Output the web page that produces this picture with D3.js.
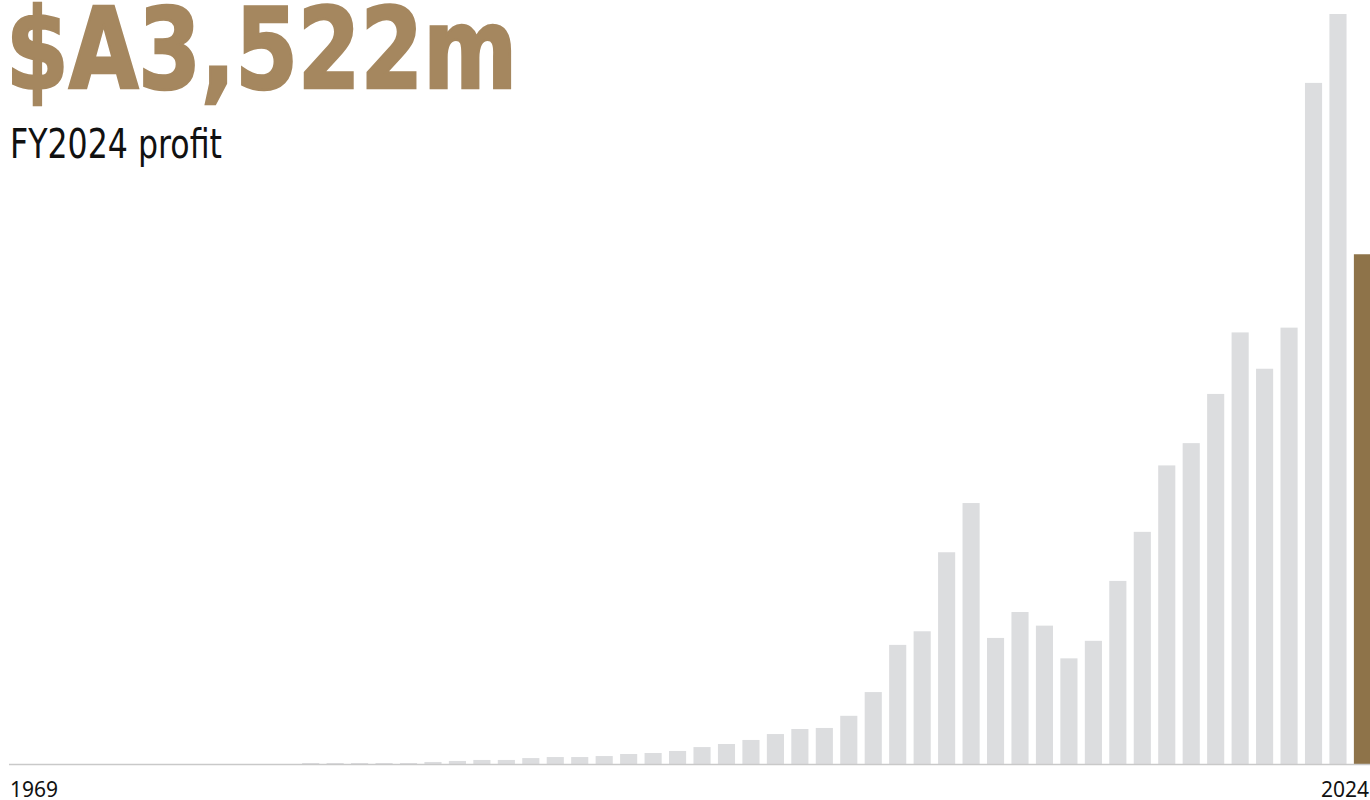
<!DOCTYPE html>
<html>
    <head>
        <meta charset="UTF-8">
        <title>FY2024 profit</title>
        <style>
            body { margin: 0; background: #fff; }
            svg { display: block; }
            .bar { fill: #dcdddf; }
            .bar.current { fill: #8e7349; }
            .headline
            {
                font-family: "DejaVu Sans Condensed", "DejaVu Sans", sans-serif;
                font-stretch: condensed;
                font-weight: bold;
                fill: #a5875f;
                stroke: #a5875f;
                stroke-width: 2.5px;
                stroke-linejoin: miter;
            }
            .sub
            {
                font-family: "DejaVu Sans Condensed", "DejaVu Sans", sans-serif;
                font-stretch: condensed;
                fill: #111;
            }
            .axis text { font-family: "Noto Sans", sans-serif; font-size: 21px; fill: #111; }
        </style>
    </head>
    <body>
        <svg width="1370" height="800"></svg>
        <script src="https://cdn.jsdelivr.net/npm/d3@7"></script>
        <script>
            var width = 1370, height = 800;

            // financial years 1969 - 2024
            var years = d3.range(1969, 2025);
            // net profit, $A millions
            var profit = [
                0, 0, 0, 0, 0, 0, 0, 0, 0, 0, 0, 0,
                7, 7, 7, 7, 7, 14, 21, 28, 28, 41,
                48, 48, 55, 69, 76, 90, 117, 138, 166, 207,
                242, 249, 333, 497, 823, 917, 1463, 1803, 871, 1050,
                956, 730, 851, 1265, 1604, 2063, 2217, 2557, 2982, 2731,
                3015, 4706, 5182, 3522
            ];
            var tickYears = [1969, 2024];
            var headline = "$A3,522m";
            var subhead = "FY2024 profit";

            var svg = d3.select("svg");

            var x = d3.scaleBand()
                .domain(years)
                .range([8.6, 1371])
                .paddingInner(0.3)
                .paddingOuter(0);

            var y = d3.scaleLinear()
                .domain([0, d3.max(profit)])
                .range([764, 14]);

            var data = years.map((yr, i) => ({year: yr, value: profit[i]}));

            svg.append("g")
                .selectAll("rect")
                .data(data)
                .enter().append("rect")
                .attr("class", d => d.year === 2024 ? "bar current" : "bar")
                .attr("x", d => x(d.year))
                .attr("width", x.bandwidth())
                .attr("y", d => y(d.value))
                .attr("height", d => y(0) - y(d.value));

            // baseline
            svg.append("line")
                .attr("x1", 9).attr("x2", width)
                .attr("y1", y(0) + 0.5).attr("y2", y(0) + 0.5)
                .attr("stroke", "#c9c9c9")
                .attr("stroke-width", 1.5);

            var axis = svg.append("g").attr("class", "axis");
            axis.selectAll("text")
                .data(tickYears)
                .enter().append("text")
                .attr("x", d => d === 1969 ? 10 : 1369)
                .attr("y", 797)
                .attr("text-anchor", d => d === 1969 ? "start" : "end")
                .text(d => d);

            svg.append("text")
                .attr("class", "headline")
                .attr("x", 6).attr("y", 88)
                .attr("font-size", 113)
                .attr("textLength", 511)
                .attr("lengthAdjust", "spacingAndGlyphs")
                .text(headline);

            svg.append("text")
                .attr("class", "sub")
                .attr("x", 10).attr("y", 158)
                .attr("font-size", 41)
                .attr("textLength", 212)
                .attr("lengthAdjust", "spacingAndGlyphs")
                .text(subhead);
        </script>
    </body>
</html>
